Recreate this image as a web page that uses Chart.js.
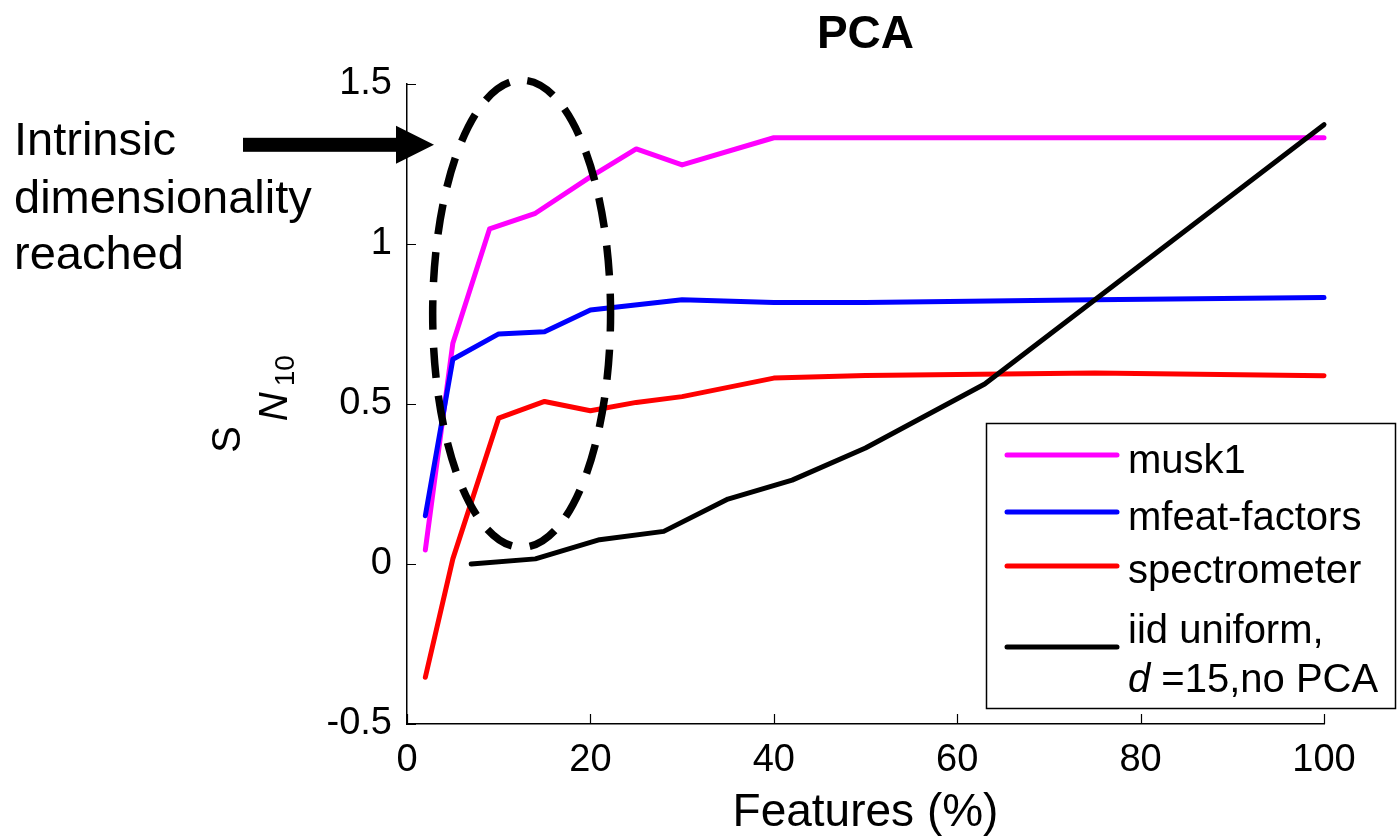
<!DOCTYPE html>
<html>
<head>
<meta charset="utf-8">
<title>PCA</title>
<script src="https://cdn.jsdelivr.net/npm/chart.js@4.4.1/dist/chart.umd.min.js"></script>
<style>
  html, body { margin: 0; padding: 0; background: #fff; }
  #wrap { width: 1397px; height: 839px; }
</style>
</head>
<body>
<div id="wrap"><canvas id="chart" width="1397" height="839"></canvas></div>
<script>
const FONT = '"Liberation Sans", Arial, Helvetica, sans-serif';

// percentage of features kept vs. S_N10 for each data set
const muskX = [2, 5, 9, 14, 20, 25, 30, 40, 100];
const muskY = [0.044, 0.69, 1.047, 1.096, 1.21, 1.297, 1.247, 1.332, 1.332];
const mfeatX = [2, 5, 10, 15, 20, 30, 40, 50, 75, 100];
const mfeatY = [0.151, 0.64, 0.719, 0.726, 0.794, 0.826, 0.817, 0.817, 0.826, 0.833];
const spectroX = [2, 5, 10, 15, 20, 25, 30, 40, 50, 75, 100];
const spectroY = [-0.354, 0.016, 0.456, 0.508, 0.479, 0.505, 0.523, 0.581, 0.589, 0.597, 0.588];
const iidX = [7, 14, 21, 28, 35, 42, 50, 63, 100];
const iidY = [0, 0.016, 0.076, 0.102, 0.203, 0.262, 0.3625, 0.5625, 1.373];

const seriesNames = ['musk1', 'mfeat-factors', 'spectrometer', 'iid uniform, d =15,no PCA'];
const seriesColors = ['#ff00ff', '#0000ff', '#ff0000', '#000000'];

const xTicks = [0, 20, 40, 60, 80, 100];
const xTickLabels = ['0', '20', '40', '60', '80', '100'];
const yTicks = [-0.5, 0, 0.5, 1, 1.5];
const yTickLabels = ['-0.5', '0', '0.5', '1', '1.5'];

// dashed ring around the low-dimensional region (centre and half-axes in data units)
const ringCenter = [12.5, 0.782];
const ringRadius = [9.7, 0.73];
// height (data units) the arrow points at
const arrowLevel = 1.31;

function pts(xs, ys) {
  return xs.map((x, i) => ({ x: x, y: ys[i] }));
}

function lineSet(i, xs, ys, order) {
  return {
    label: seriesNames[i],
    data: pts(xs, ys),
    borderColor: seriesColors[i],
    backgroundColor: seriesColors[i],
    borderWidth: 5,
    pointRadius: 0,
    borderCapStyle: 'round',
    borderJoinStyle: 'round',
    tension: 0,
    clip: false,
    order: order
  };
}

const decorations = {
  id: 'decorations',
  afterDatasetsDraw(chart) {
    const ctx = chart.ctx;
    const xs = chart.scales.x, ys = chart.scales.y;
    const area = chart.chartArea;

    // ticks pointing into the plot
    ctx.save();
    ctx.strokeStyle = '#000';
    ctx.lineWidth = 1.2;
    ctx.beginPath();
    xTicks.forEach(v => {
      const px = Math.round(xs.getPixelForValue(v)) + 0.5;
      ctx.moveTo(px, area.bottom);
      ctx.lineTo(px, area.bottom - 10);
    });
    yTicks.forEach(v => {
      const py = Math.round(ys.getPixelForValue(v)) + 0.5;
      ctx.moveTo(area.left, py);
      ctx.lineTo(area.left + 9, py);
    });
    ctx.stroke();

    // dashed ellipse
    const cx = xs.getPixelForValue(ringCenter[0]);
    const cy = ys.getPixelForValue(ringCenter[1]);
    const rx = xs.getPixelForValue(ringCenter[0] + ringRadius[0]) - cx;
    const ry = cy - ys.getPixelForValue(ringCenter[1] + ringRadius[1]);
    ctx.setLineDash([30, 18]);
    ctx.lineDashOffset = 12;
    ctx.lineWidth = 7.5;
    ctx.beginPath();
    ctx.ellipse(cx, cy, rx, ry, 0, 0, Math.PI * 2);
    ctx.stroke();
    ctx.restore();
  },
  afterDraw(chart) {
    const ctx = chart.ctx;
    const xs = chart.scales.x, ys = chart.scales.y;
    const area = chart.chartArea;
    const midX = (area.left + area.right) / 2;
    const midY = (area.top + area.bottom) / 2;

    ctx.save();
    ctx.fillStyle = '#000';
    ctx.textBaseline = 'alphabetic';

    // title
    ctx.font = 'bold 46px ' + FONT;
    ctx.textAlign = 'center';
    ctx.fillText('PCA', midX, 48);

    // x axis title
    ctx.font = '46px ' + FONT;
    ctx.fillText('Features (%)', midX, 826);

    // y axis title: S with subscript N_10, rotated
    ctx.textAlign = 'left';
    ctx.font = '40px ' + FONT;
    const wS = ctx.measureText('S').width;
    ctx.font = 'italic 40px ' + FONT;
    const wN = ctx.measureText('N').width;
    ctx.font = '28px ' + FONT;
    const w10 = ctx.measureText('10').width;
    const total = wS + 5 + wN + 6 + w10;
    let pos = midY + total / 2;
    const pieces = [
      ['S', '40px ' + FONT, 240, wS + 5],
      ['N', 'italic 40px ' + FONT, 287, wN + 6],
      ['10', '28px ' + FONT, 294, w10]
    ];
    pieces.forEach(p => {
      ctx.save();
      ctx.font = p[1];
      ctx.translate(p[2], pos);
      ctx.rotate(-Math.PI / 2);
      ctx.fillText(p[0], 0, 0);
      ctx.restore();
      pos -= p[3];
    });

    // annotation on the left
    ctx.font = '47px ' + FONT;
    ctx.fillText('Intrinsic', 14, 155);
    ctx.fillText('dimensionality', 14, 213);
    ctx.fillText('reached', 14, 269);

    // arrow
    const ay = ys.getPixelForValue(arrowLevel);
    const tip = area.left + 27;
    ctx.fillRect(243, ay - 7, tip - 38 - 243 + 1, 14);
    ctx.beginPath();
    ctx.moveTo(tip - 38, ay - 19);
    ctx.lineTo(tip, ay);
    ctx.lineTo(tip - 38, ay + 19);
    ctx.closePath();
    ctx.fill();

    // legend
    const bx = 986.5, by = 423.5, bw = 409, bh = 285;
    ctx.fillStyle = '#fff';
    ctx.fillRect(bx, by, bw, bh);
    ctx.strokeStyle = '#000';
    ctx.lineWidth = 1.5;
    ctx.strokeRect(bx, by, bw, bh);

    const rows = [
      { line: 455, text: [[seriesNames[0], 473]] },
      { line: 512, text: [[seriesNames[1], 530]] },
      { line: 566, text: [[seriesNames[2], 583]] },
      { line: 647, text: [['iid uniform,', 643], ['d', 692, true], [' =15,no PCA', 692]] }
    ];
    ctx.lineCap = 'round';
    rows.forEach((r, i) => {
      ctx.strokeStyle = seriesColors[i];
      ctx.lineWidth = 5;
      ctx.beginPath();
      ctx.moveTo(1007, r.line);
      ctx.lineTo(1117, r.line);
      ctx.stroke();
      ctx.fillStyle = '#000';
      let tx = 1128;
      r.text.forEach((t, j) => {
        ctx.font = (t[2] ? 'italic ' : '') + '40px ' + FONT;
        if (j > 0 && t[1] !== r.text[j - 1][1]) tx = 1128;
        ctx.fillText(t[0], tx, t[1]);
        tx += ctx.measureText(t[0]).width;
      });
    });

    ctx.restore();
  }
};

new Chart(document.getElementById('chart'), {
  type: 'line',
  data: {
    datasets: [
      lineSet(0, muskX, muskY, 4),
      lineSet(1, mfeatX, mfeatY, 3),
      lineSet(2, spectroX, spectroY, 2),
      lineSet(3, iidX, iidY, 1)
    ]
  },
  options: {
    responsive: false,
    animation: false,
    events: [],
    layout: { padding: { top: 84, right: 73, left: 0, bottom: 0 } },
    plugins: {
      legend: { display: false },
      title: { display: false },
      tooltip: { enabled: false }
    },
    scales: {
      x: {
        type: 'linear',
        min: 0,
        max: 100,
        afterBuildTicks: s => { s.ticks = xTicks.map(v => ({ value: v })); },
        afterFit: s => { s.height = 115; },
        ticks: {
          color: '#000',
          font: { family: FONT, size: 38 },
          padding: 14,
          maxRotation: 0,
          callback: v => xTickLabels[xTicks.indexOf(v)]
        },
        grid: { display: true, drawOnChartArea: false, drawTicks: false },
        border: { display: true, color: '#000', width: 1.5 }
      },
      y: {
        type: 'linear',
        min: -0.5,
        max: 1.5,
        afterBuildTicks: s => { s.ticks = yTicks.map(v => ({ value: v })); },
        afterFit: s => { s.width = 407; },
        ticks: {
          color: '#000',
          font: { family: FONT, size: 38 },
          padding: 15,
          callback: v => yTickLabels[yTicks.indexOf(v)]
        },
        grid: { display: true, drawOnChartArea: false, drawTicks: false },
        border: { display: true, color: '#000', width: 1.5 }
      }
    }
  },
  plugins: [decorations]
});
</script>
</body>
</html>
